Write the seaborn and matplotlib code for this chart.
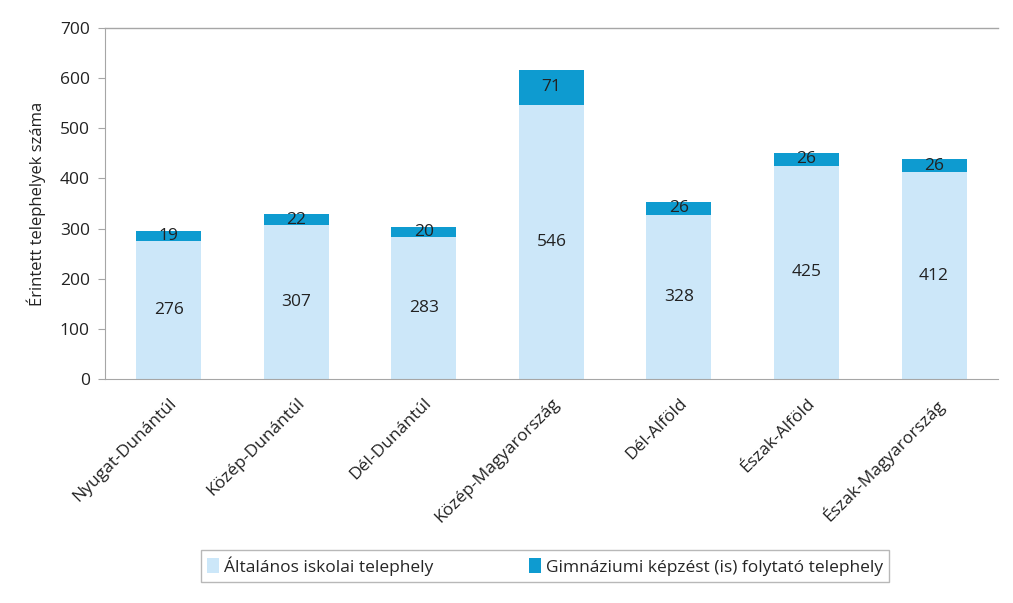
import pandas as pd
import seaborn as sns
import matplotlib.pyplot as plt
from matplotlib.patches import Patch

regions = ['Nyugat-Dunántúl', 'Közép-Dunántúl', 'Dél-Dunántúl', 'Közép-Magyarország',
           'Dél-Alföld', 'Észak-Alföld', 'Észak-Magyarország']
altalanos = [276, 307, 283, 546, 328, 425, 412]
gimnaziumi = [19, 22, 20, 71, 26, 26, 26]

series_names = ['Általános iskolai telephely', 'Gimnáziumi képzést (is) folytató telephely']
light = '#CCE7F9'
dark = '#0E9BD0'

df = pd.DataFrame({'region': regions, 'alt': altalanos, 'gim': gimnaziumi})

sns.set_style('white')
plt.rcParams['font.family'] = ['Open Sans', 'DejaVu Sans']
fs = 12.5

fig = plt.figure(figsize=(10.13, 6.03), dpi=100)
ax = fig.add_axes([0.1037, 0.3715, 0.8813, 0.582])

sns.barplot(data=df, x='region', y='alt', color=light, width=0.51, saturation=1,
            linewidth=0, edgecolor='none', ax=ax)
sns.barplot(data=df, x='region', y='gim', bottom=df['alt'], color=dark, width=0.51, saturation=1,
            linewidth=0, edgecolor='none', ax=ax)

ax.bar_label(ax.containers[0], labels=[str(v) for v in altalanos], label_type='center', fontsize=fs, color='#222222')
ax.bar_label(ax.containers[1], labels=[str(v) for v in gimnaziumi], label_type='center', fontsize=fs, color='#222222')

ax.set_ylim(0, 700)
ax.set_yticks(range(0, 701, 100))
ax.set_xlim(-0.5, len(regions) - 0.5)
ax.set_xlabel('')
ax.set_ylabel('Érintett telephelyek száma', fontsize=fs - 0.5, color='#222222', labelpad=10)

for s in ['left', 'bottom', 'top']:
    ax.spines[s].set_color('#A6A6A6')
ax.spines['right'].set_visible(False)
ax.spines['top'].set_linewidth(1.0)

ax.tick_params(axis='y', left=True, length=5, color='#A6A6A6', labelsize=fs, labelcolor='#222222', pad=6)
ax.tick_params(axis='x', bottom=False, labelsize=fs, labelcolor='#222222', pad=8)
plt.setp(ax.get_xticklabels(), rotation=45, ha='right', rotation_mode='anchor')

handles = [Patch(facecolor=light, edgecolor='none'), Patch(facecolor=dark, edgecolor='none')]
leg = fig.legend(handles, series_names, loc='center', bbox_to_anchor=(0.538, 0.0615), ncol=2,
                 fontsize=fs, frameon=True, fancybox=False, edgecolor='#A6A6A6',
                 handlelength=0.7, handleheight=0.9, handletextpad=0.3, columnspacing=5.5,
                 borderpad=0.35)
leg.get_frame().set_linewidth(1.0)

fig.savefig('out.png', dpi=100)
